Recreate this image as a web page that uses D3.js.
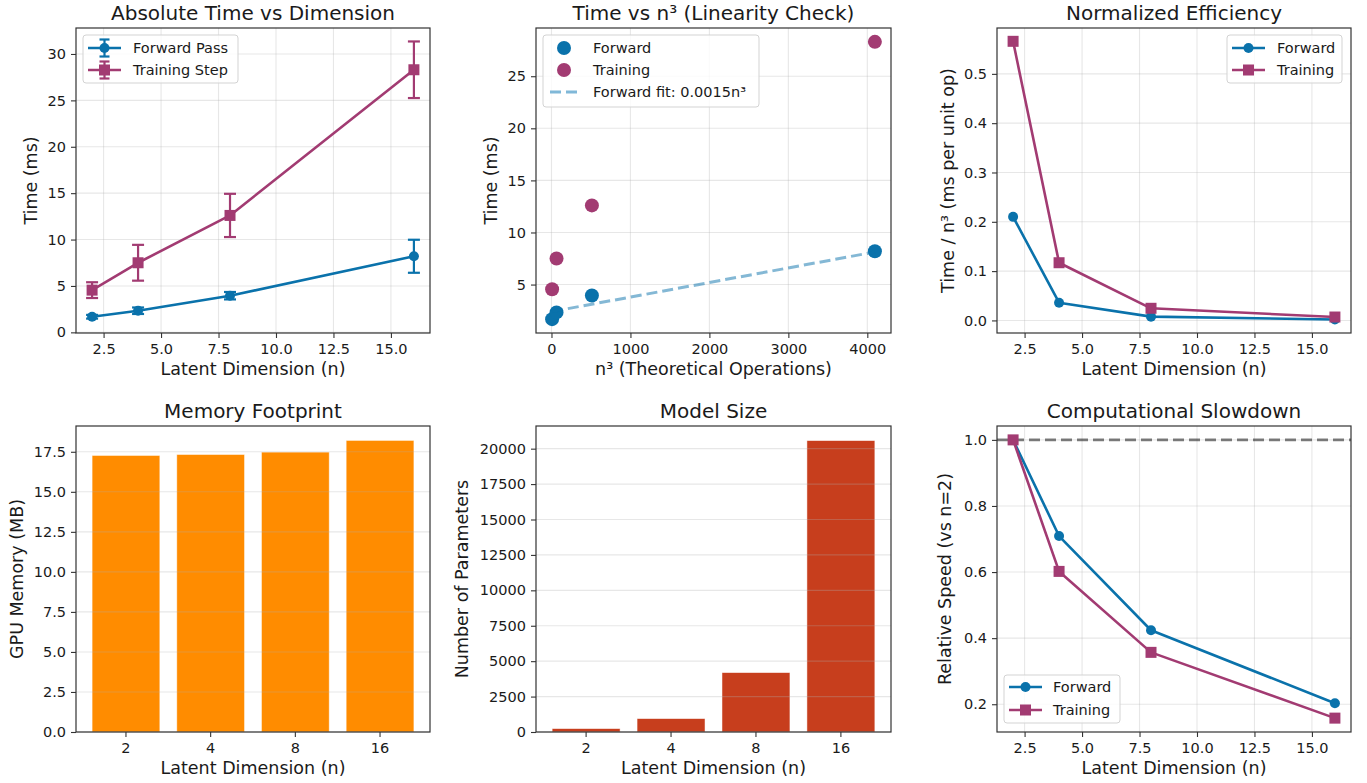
<!DOCTYPE html>
<html>
<head>
<meta charset="utf-8">
<script src="https://cdn.jsdelivr.net/npm/d3@7"></script>
<style>
body{margin:0;background:#fff;}
svg text{font-family:"DejaVu Sans",sans-serif;fill:#1a1a1a;}
</style>
</head>
<body>
<svg id="chart" width="1367" height="783"></svg>
<script>
// values
var dims = [2, 4, 8, 16];
var dimLabels = ['2', '4', '8', '16'];
var fwdTime = [1.68, 2.33, 3.95, 8.2];
var fwdErr = [0.2, 0.35, 0.4, 1.78];
var trainTime = [4.55, 7.5, 12.6, 28.3];
var trainErr = [0.85, 1.93, 2.33, 3.05];
var ops = [8, 64, 512, 4096];
var fitOps = [8, 4096];
var fitTime = [2.41, 8.13];
var fwdNorm = [0.21, 0.036, 0.0077, 0.002];
var trainNorm = [0.566, 0.117, 0.0246, 0.0069];
var memMB = [17.27, 17.33, 17.48, 18.21];
var paramCount = [240, 946, 4193, 20570];
var fwdRel = [1.0, 0.709, 0.424, 0.203];
var trainRel = [1.0, 0.602, 0.357, 0.158];

var dimTicks = [2.5, 5, 7.5, 10, 12.5, 15];

var blue = '#0a72ab', magenta = '#a23b72', orange = '#ff8c00', red = '#c73e1d';

var svg = d3.select('svg#chart');

var rows = [{top: 28, bottom: 333}, {top: 426, bottom: 732}];
var cols = [{left: 76, right: 430}, {left: 536, right: 891}, {left: 997, right: 1351}];

function panel(c, r, x, y, opt){
    var col = cols[c], row = rows[r];
    var g = svg.append('g');
    var layerA = g.append('g'), layerB = g.append('g');
    var grid = opt.gridOnTop ? layerB : layerA;
    var marks = opt.gridOnTop ? layerA : layerB;

    if(opt.xTicks){
        grid.selectAll('line.vx').data(opt.xTicks).enter().append('line')
        .attr('x1', d => x(d)).attr('x2', d => x(d))
        .attr('y1', row.top).attr('y2', row.bottom);
    }
    grid.selectAll('line.hy').data(opt.yTicks).enter().append('line')
    .attr('x1', col.left).attr('x2', col.right)
    .attr('y1', d => y(d)).attr('y2', d => y(d));
    grid.selectAll('line')
    .attr('stroke', '#b0b0b0').attr('stroke-opacity', 0.3).attr('stroke-width', 1.1);

    var xAxis = opt.xTicks ? d3.axisBottom(x).tickValues(opt.xTicks).tickFormat(opt.xFmt) : d3.axisBottom(x);
    var ax = g.append('g').attr('transform', 'translate(0,' + row.bottom + ')')
    .call(xAxis.tickSize(5).tickPadding(5.5));
    var ay = g.append('g').attr('transform', 'translate(' + col.left + ',0)')
    .call(d3.axisLeft(y).tickValues(opt.yTicks).tickFormat(opt.yFmt).tickSize(5).tickPadding(5));
    [ax, ay].forEach(a => {
        a.attr('font-size', 14.5).attr('font-family', null);
        a.select('.domain').remove();
        a.selectAll('.tick line').attr('stroke', '#333').attr('stroke-width', 1.1);
        a.selectAll('.tick text').attr('fill', '#1a1a1a');
    });

    var cx = (col.left + col.right) / 2;
    g.append('text').attr('x', cx).attr('y', row.top - 8)
    .attr('text-anchor', 'middle').attr('font-size', 20).text(opt.title);
    g.append('text').attr('x', cx).attr('y', row.bottom + 42)
    .attr('text-anchor', 'middle').attr('font-size', 17.5).text(opt.xLabel);
    g.append('text')
    .attr('transform', 'translate(' + (col.left - opt.yLabelOff) + ',' + ((row.top + row.bottom) / 2) + ') rotate(-90)')
    .attr('text-anchor', 'middle').attr('font-size', 17.5).text(opt.yLabel);

    g.append('rect').attr('x', col.left).attr('y', row.top)
    .attr('width', col.right - col.left).attr('height', row.bottom - row.top)
    .attr('fill', 'none').attr('stroke', '#333').attr('stroke-width', 1.2);

    return marks;
}

function drawLine(g, xs, ys, x, y, color){
    var line = d3.line().x(d => x(d[0])).y(d => y(d[1]));
    g.append('path').datum(d3.zip(xs, ys)).attr('d', line)
    .attr('fill', 'none').attr('stroke', color).attr('stroke-width', 2.6)
    .attr('stroke-linejoin', 'round');
}

function drawMarkers(g, xs, ys, x, y, color, shape, size){
    var pts = d3.zip(xs, ys);
    if(shape === 'circle'){
        g.selectAll(null).data(pts).enter().append('circle')
        .attr('cx', d => x(d[0])).attr('cy', d => y(d[1])).attr('r', size)
        .attr('fill', color);
    } else {
        g.selectAll(null).data(pts).enter().append('rect')
        .attr('x', d => x(d[0]) - size).attr('y', d => y(d[1]) - size)
        .attr('width', size * 2).attr('height', size * 2).attr('fill', color);
    }
}

function drawErrors(g, xs, ys, es, x, y, color){
    var pts = d3.zip(xs, ys, es);
    var eg = g.append('g').attr('stroke', color).attr('stroke-width', 2.2);
    eg.selectAll(null).data(pts).enter().append('line')
    .attr('x1', d => x(d[0])).attr('x2', d => x(d[0]))
    .attr('y1', d => y(d[1] - d[2])).attr('y2', d => y(d[1] + d[2]));
    [-1, 1].forEach(s => {
        eg.selectAll(null).data(pts).enter().append('line')
        .attr('x1', d => x(d[0]) - 6).attr('x2', d => x(d[0]) + 6)
        .attr('y1', d => y(d[1] + s * d[2])).attr('y2', d => y(d[1] + s * d[2]));
    });
}

function legend(box, hx0, hx1, tx, items){
    var g = svg.append('g');
    g.append('rect').attr('x', box[0]).attr('y', box[1]).attr('width', box[2]).attr('height', box[3])
    .attr('rx', 3).attr('fill', '#fff').attr('fill-opacity', 0.8)
    .attr('stroke', '#d3d3d3').attr('stroke-width', 1);
    items.forEach(it => {
        var mx = (hx0 + hx1) / 2;
        if(it.kind !== 'dot'){
            var ln = g.append('line').attr('x1', hx0).attr('x2', hx1).attr('y1', it.y).attr('y2', it.y)
            .attr('stroke', it.color).attr('stroke-width', it.kind === 'dash' ? 3 : 2.6);
            if(it.kind === 'dash') ln.attr('stroke-dasharray', '11,5');
        }
        if(it.err){
            g.append('line').attr('x1', mx).attr('x2', mx).attr('y1', it.y - 8.5).attr('y2', it.y + 8.5)
            .attr('stroke', it.color).attr('stroke-width', 2.2);
            [-8.5, 8.5].forEach(o => g.append('line').attr('x1', mx - 5).attr('x2', mx + 5)
                .attr('y1', it.y + o).attr('y2', it.y + o).attr('stroke', it.color).attr('stroke-width', 2.2));
        }
        if(it.shape === 'circle') g.append('circle').attr('cx', mx).attr('cy', it.y).attr('r', it.r || 5).attr('fill', it.color);
        if(it.shape === 'square') g.append('rect').attr('x', mx - 5.5).attr('y', it.y - 5.5)
            .attr('width', 11).attr('height', 11).attr('fill', it.color);
        g.append('text').attr('x', tx).attr('y', it.y + 5.2).attr('font-size', 14.5).text(it.label);
    });
}

var fmt1 = d3.format('.1f');
var fmt0 = d3.format('d');

// 1. absolute time
(function(){
    var x = d3.scaleLinear().domain([1.3, 16.7]).range([cols[0].left, cols[0].right]);
    var y = d3.scaleLinear().domain([-0.07, 32.8]).range([rows[0].bottom, rows[0].top]);
    var g = panel(0, 0, x, y, {title: 'Absolute Time vs Dimension', xLabel: 'Latent Dimension (n)', yLabel: 'Time (ms)',
        xTicks: dimTicks, xFmt: fmt1, yTicks: [0, 5, 10, 15, 20, 25, 30], yFmt: fmt0, yLabelOff: 39});
    drawLine(g, dims, fwdTime, x, y, blue);
    drawErrors(g, dims, fwdTime, fwdErr, x, y, blue);
    drawMarkers(g, dims, fwdTime, x, y, blue, 'circle', 5);
    drawLine(g, dims, trainTime, x, y, magenta);
    drawErrors(g, dims, trainTime, trainErr, x, y, magenta);
    drawMarkers(g, dims, trainTime, x, y, magenta, 'square', 5.5);
    legend([83, 35, 155, 48], 88, 121, 133, [
        {label: 'Forward Pass', color: blue, shape: 'circle', err: true, y: 48},
        {label: 'Training Step', color: magenta, shape: 'square', err: true, y: 70}]);
})();

// 2. time vs n^3
(function(){
    var x = d3.scaleLinear().domain([-196, 4300]).range([cols[1].left, cols[1].right]);
    var y = d3.scaleLinear().domain([0.35, 29.63]).range([rows[0].bottom, rows[0].top]);
    var g = panel(1, 0, x, y, {title: 'Time vs n³ (Linearity Check)', xLabel: 'n³ (Theoretical Operations)', yLabel: 'Time (ms)',
        xTicks: [0, 1000, 2000, 3000, 4000], xFmt: fmt0, yTicks: [5, 10, 15, 20, 25], yFmt: fmt0, yLabelOff: 39});
    drawMarkers(g, ops, fwdTime, x, y, blue, 'circle', 7);
    drawMarkers(g, ops, trainTime, x, y, magenta, 'circle', 7);
    g.append('path').datum(d3.zip(fitOps, fitTime))
    .attr('d', d3.line().x(d => x(d[0])).y(d => y(d[1])))
    .attr('fill', 'none').attr('stroke', blue).attr('stroke-opacity', 0.5)
    .attr('stroke-width', 3).attr('stroke-dasharray', '11,5');
    legend([543, 35, 216, 72], 550, 578, 593, [
        {label: 'Forward', color: blue, shape: 'circle', kind: 'dot', r: 7, y: 48},
        {label: 'Training', color: magenta, shape: 'circle', kind: 'dot', r: 7, y: 70},
        {label: 'Forward fit: 0.0015n³', color: '#80b8d8', kind: 'dash', y: 92}]);
})();

// 3. normalized efficiency
(function(){
    var x = d3.scaleLinear().domain([1.3, 16.7]).range([cols[2].left, cols[2].right]);
    var y = d3.scaleLinear().domain([-0.0255, 0.593]).range([rows[0].bottom, rows[0].top]);
    var g = panel(2, 0, x, y, {title: 'Normalized Efficiency', xLabel: 'Latent Dimension (n)', yLabel: 'Time / n³ (ms per unit op)',
        xTicks: dimTicks, xFmt: fmt1, yTicks: [0, 0.1, 0.2, 0.3, 0.4, 0.5], yFmt: fmt1, yLabelOff: 43});
    drawLine(g, dims, fwdNorm, x, y, blue);
    drawMarkers(g, dims, fwdNorm, x, y, blue, 'circle', 5);
    drawLine(g, dims, trainNorm, x, y, magenta);
    drawMarkers(g, dims, trainNorm, x, y, magenta, 'square', 5.5);
    legend([1227, 35, 115, 48], 1232, 1265, 1277, [
        {label: 'Forward', color: blue, shape: 'circle', y: 48},
        {label: 'Training', color: magenta, shape: 'square', y: 70}]);
})();

// 4. memory footprint
(function(){
    var x = d3.scaleBand().domain(dimLabels).range([cols[0].left, cols[0].right]).paddingInner(0.2).paddingOuter(0.19);
    var y = d3.scaleLinear().domain([0, 19.11]).range([rows[1].bottom, rows[1].top]);
    var g = panel(0, 1, x, y, {title: 'Memory Footprint', xLabel: 'Latent Dimension (n)', yLabel: 'GPU Memory (MB)',
        yTicks: [0, 2.5, 5, 7.5, 10, 12.5, 15, 17.5], yFmt: fmt1, yLabelOff: 53, gridOnTop: true});
    g.selectAll(null).data(d3.zip(dimLabels, memMB)).enter().append('rect')
    .attr('x', d => x(d[0])).attr('width', x.bandwidth())
    .attr('y', d => y(d[1])).attr('height', d => y(0) - y(d[1]))
    .attr('fill', orange).attr('stroke', '#fff').attr('stroke-opacity', 0.6).attr('stroke-width', 0.8);
})();

// 5. model size
(function(){
    var x = d3.scaleBand().domain(dimLabels).range([cols[1].left, cols[1].right]).paddingInner(0.2).paddingOuter(0.19);
    var y = d3.scaleLinear().domain([0, 21600]).range([rows[1].bottom, rows[1].top]);
    var g = panel(1, 1, x, y, {title: 'Model Size', xLabel: 'Latent Dimension (n)', yLabel: 'Number of Parameters',
        yTicks: [0, 2500, 5000, 7500, 10000, 12500, 15000, 17500, 20000], yFmt: fmt0, yLabelOff: 68, gridOnTop: true});
    g.selectAll(null).data(d3.zip(dimLabels, paramCount)).enter().append('rect')
    .attr('x', d => x(d[0])).attr('width', x.bandwidth())
    .attr('y', d => y(d[1])).attr('height', d => y(0) - y(d[1]))
    .attr('fill', red).attr('stroke', '#fff').attr('stroke-opacity', 0.6).attr('stroke-width', 0.8);
})();

// 6. computational slowdown
(function(){
    var x = d3.scaleLinear().domain([1.3, 16.7]).range([cols[2].left, cols[2].right]);
    var y = d3.scaleLinear().domain([0.116, 1.042]).range([rows[1].bottom, rows[1].top]);
    var g = panel(2, 1, x, y, {title: 'Computational Slowdown', xLabel: 'Latent Dimension (n)', yLabel: 'Relative Speed (vs n=2)',
        xTicks: dimTicks, xFmt: fmt1, yTicks: [0.2, 0.4, 0.6, 0.8, 1.0], yFmt: fmt1, yLabelOff: 46});
    g.append('line').attr('x1', cols[2].left).attr('x2', cols[2].right)
    .attr('y1', y(1)).attr('y2', y(1))
    .attr('stroke', '#000').attr('stroke-opacity', 0.5).attr('stroke-width', 2.8).attr('stroke-dasharray', '11,5');
    drawLine(g, dims, fwdRel, x, y, blue);
    drawMarkers(g, dims, fwdRel, x, y, blue, 'circle', 5);
    drawLine(g, dims, trainRel, x, y, magenta);
    drawMarkers(g, dims, trainRel, x, y, magenta, 'square', 5.5);
    legend([1004, 675, 116, 48], 1009, 1042, 1053, [
        {label: 'Forward', color: blue, shape: 'circle', y: 687},
        {label: 'Training', color: magenta, shape: 'square', y: 710}]);
})();
</script>
</body>
</html>
